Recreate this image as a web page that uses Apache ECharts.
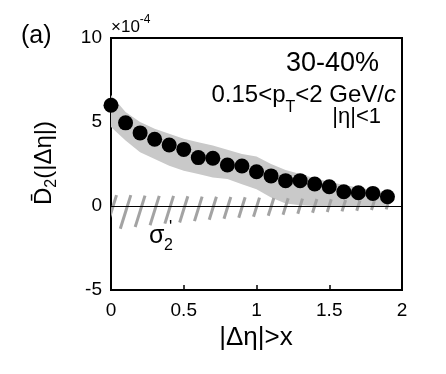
<!DOCTYPE html>
<html><head><meta charset="utf-8">
<script src="https://cdn.jsdelivr.net/npm/echarts@6/dist/echarts.min.js"></script>
<style>html,body{margin:0;padding:0;background:#fff}#c{width:446px;height:374px}</style>
</head><body><div id="c"></div>
<script>
// |Δη| > x thresholds
const etaX = [0, 0.1, 0.2, 0.3, 0.4, 0.5, 0.6, 0.7, 0.8, 0.9, 1.0, 1.1, 1.2, 1.3, 1.4, 1.5, 1.6, 1.7, 1.8, 1.9];
// D2 values (x10^-4)
const d2Values = [6.0, 4.95, 4.35, 3.97, 3.63, 3.37, 2.88, 2.84, 2.44, 2.38, 2.04, 1.79, 1.51, 1.51, 1.31, 1.15, 0.85, 0.79, 0.75, 0.55];
// systematic band (grey)
const bandUpper = [6.6, 5.6, 5.0, 4.6, 4.3, 4.0, 3.8, 3.6, 3.35, 3.1, 2.95, 2.5, 2.15, 1.9, 1.65, 1.45, 1.25, 1.1, 0.95, 0.8];
const bandLower = [4.7, 3.9, 3.2, 2.8, 2.4, 2.1, 1.9, 1.7, 1.6, 1.3, 1.0, 0.5, 0.15, 0.05, 0.0, 0.0, 0.0, 0.0, 0.0, 0.0];
// sigma_2' hatched band
const sigmaUpper = [0.65, 0.65, 0.62, 0.6, 0.6, 0.58, 0.56, 0.55, 0.54, 0.52, 0.5, 0.48, 0.46, 0.44, 0.42, 0.4, 0.36, 0.33, 0.3, 0.28];
const sigmaLower = [-1.45, -1.35, -1.25, -1.15, -1.05, -0.98, -0.9, -0.82, -0.76, -0.7, -0.64, -0.58, -0.52, -0.46, -0.4, -0.36, -0.32, -0.28, -0.24, -0.2];
const xTicks = ['0', '0.5', '1', '1.5', '2'];
const yTicks = ['-5', '0', '5', '10'];

const FF = "'Liberation Sans', Arial, Helvetica, sans-serif";
const chart = echarts.init(document.getElementById('c'), null, {renderer: 'canvas'});

const option = {
  animation: false,
  backgroundColor: '#fff',
  grid: {left: 111, right: 44, top: 38, bottom: 84, show: true, borderColor: '#000', borderWidth: 2, backgroundColor: 'transparent'},
  xAxis: {
    type: 'value', min: 0, max: 2, interval: 0.5,
    axisLine: {show: true, onZero: false, lineStyle: {color: '#000', width: 2}},
    axisTick: {show: true, inside: true, length: 5, lineStyle: {color: '#000', width: 1.5}},
    axisLabel: {color: '#000', fontSize: 19, fontFamily: FF, margin: 11,
      formatter: v => xTicks.find(t => Math.abs(parseFloat(t) - v) < 1e-9) || ''},
    splitLine: {show: false}
  },
  yAxis: {
    type: 'value', min: -5, max: 10, interval: 5,
    axisLine: {show: true, onZero: false, lineStyle: {color: '#000', width: 2}},
    axisTick: {show: false},
    axisLabel: {color: '#000', fontSize: 19, fontFamily: FF, margin: 9,
      formatter: v => yTicks.find(t => Math.abs(parseFloat(t) - v) < 1e-9) || ''},
    splitLine: {show: false}
  },
  series: [
    {
      type: 'custom', name: 'band', z: 1, silent: true,
      data: etaX.map((x, i) => [x, bandLower[i], bandUpper[i]]),
      renderItem: (params, api) => {
        if (params.dataIndex !== 0) return null;
        const pts = [];
        for (let i = 0; i < etaX.length; i++) pts.push(api.coord([etaX[i], bandUpper[i]]));
        for (let i = etaX.length - 1; i >= 0; i--) pts.push(api.coord([etaX[i], bandLower[i]]));
        return {type: 'polygon', shape: {points: pts}, style: {fill: '#c9c9c9'}};
      }
    },
    {
      type: 'custom', name: 'sigma2', z: 2, silent: true, clip: true,
      data: etaX.map((x, i) => [x, sigmaLower[i], sigmaUpper[i]]),
      renderItem: (params, api) => {
        const lo = api.coord([api.value(0), api.value(1)]);
        const hi = api.coord([api.value(0), api.value(2)]);
        const dx = (lo[1] - hi[1]) / 3.2;
        return {type: 'line', shape: {x1: lo[0] - dx / 2, y1: lo[1], x2: hi[0] + dx / 2, y2: hi[1]},
          style: {stroke: '#a3a3a3', lineWidth: 3}};
      }
    },
    {
      type: 'line', name: 'zero', z: 3, data: [], silent: true,
      markLine: {silent: true, symbol: 'none', label: {show: false}, animation: false,
        lineStyle: {color: '#000', width: 1, type: 'solid'}, data: [{yAxis: 0}]}
    },
    {
      type: 'scatter', name: 'D2', z: 5, symbol: 'circle', symbolSize: 15,
      itemStyle: {color: '#000', opacity: 1},
      data: etaX.map((x, i) => [x, d2Values[i]])
    }
  ],
  graphic: [
    {type: 'text', x: 21, y: 36, style: {text: '(a)', font: '25px ' + FF, fill: '#000', textAlign: 'left', textVerticalAlign: 'middle'}},
    {type: 'text', x: 111, y: 27, style: {text: '{a|×10}{b|-4}', fill: '#000', textAlign: 'left', textVerticalAlign: 'middle',
      rich: {a: {fontSize: 17, fontFamily: FF, fill: '#000'}, b: {fontSize: 12, fontFamily: FF, fill: '#000', padding: [0, 0, 14, 0]}}}},
    {type: 'text', x: 379, y: 64, style: {text: '30-40%', font: '27px ' + FF, fill: '#000', textAlign: 'right', textVerticalAlign: 'middle'}},
    {type: 'text', x: 396, y: 95, style: {text: '{a|0.15<p}{b|T}{a|<2 GeV/}{c|c}', fill: '#000', textAlign: 'right', textVerticalAlign: 'middle',
      rich: {a: {fontSize: 24, fontFamily: FF, fill: '#000'}, b: {fontSize: 16, fontFamily: FF, fill: '#000', padding: [26, 0, 0, 0]},
        c: {fontSize: 24, fontFamily: FF, fontStyle: 'italic', fill: '#000'}}}},
    {type: 'text', x: 381, y: 117, style: {text: '|η|<1', font: '22px ' + FF, fill: '#000', textAlign: 'right', textVerticalAlign: 'middle'}},
    {type: 'text', x: 256, y: 338, style: {text: '|Δη|>x', font: '26px ' + FF, fill: '#000', textAlign: 'center', textVerticalAlign: 'middle'}},
    {type: 'text', x: 44, y: 163, rotation: Math.PI / 2, style: {text: '{a|D\u0304}{b|2}{a|(|Δη|)}', fill: '#000', textAlign: 'center', textVerticalAlign: 'middle',
      rich: {a: {fontSize: 24, fontFamily: FF, fill: '#000'}, b: {fontSize: 16, fontFamily: FF, fill: '#000', padding: [16, 0, 0, 0]}}}},
    {type: 'text', x: 149, y: 236, style: {text: 'σ', font: '25px ' + FF, fill: '#000', textAlign: 'left', textVerticalAlign: 'middle'}},
    {type: 'text', x: 164, y: 246, style: {text: '2', font: '16px ' + FF, fill: '#000', textAlign: 'left', textVerticalAlign: 'middle'}},
    {type: 'text', x: 169, y: 227, style: {text: "'", font: '17px ' + FF, fill: '#000', textAlign: 'left', textVerticalAlign: 'middle'}}
  ]
};
chart.setOption(option);
</script>
</body></html>
